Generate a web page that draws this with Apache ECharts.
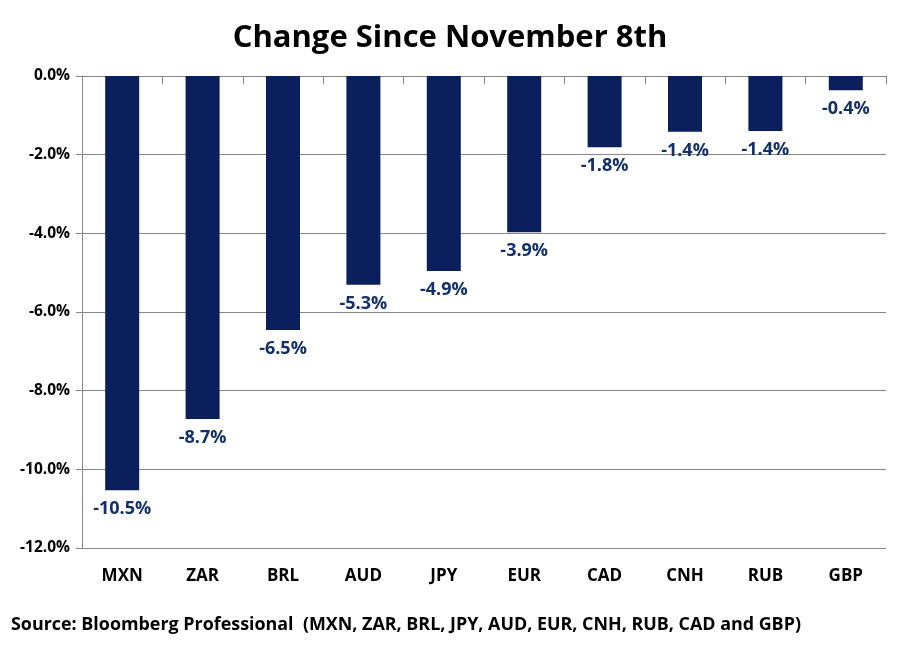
<!DOCTYPE html>
<html><head><meta charset="utf-8">
<script src="https://cdn.jsdelivr.net/npm/echarts@6/dist/echarts.min.js"></script>
<style>html,body{margin:0;padding:0;background:#fff}#c{width:900px;height:652px}</style>
</head><body><div id="c"></div>
<script>
var categories = ['MXN','ZAR','BRL','AUD','JPY','EUR','CAD','CNH','RUB','GBP'];
var values = [-10.53, -8.72, -6.46, -5.31, -4.96, -3.97, -1.81, -1.42, -1.40, -0.36];
var labels = ['-10.5%','-8.7%','-6.5%','-5.3%','-4.9%','-3.9%','-1.8%','-1.4%','-1.4%','-0.4%'];
var title = 'Change Since November 8th';
var source = 'Source: Bloomberg Professional  (MXN, ZAR, BRL, JPY, AUD, EUR, CNH, RUB, CAD and GBP)';
var FONT = 'Open Sans';
var chart = echarts.init(document.getElementById('c'));
chart.setOption({
  animation: false,
  backgroundColor: '#fff',
  title: {text: title, left: 'center', top: 18,
    textStyle: {fontFamily: FONT, fontWeight: 'bold', fontSize: 31, color: '#000'}},
  graphic: [{type: 'text', left: 11, top: 616,
    style: {text: source, fontFamily: FONT, fontWeight: 'bold', fontSize: 17.9, fill: '#000'}}],
  grid: {left: 82, right: 14, top: 76, bottom: 104},
  xAxis: [
    {type: 'category', data: categories, position: 'top',
     axisLine: {show: true, onZero: false, lineStyle: {color: '#868686', width: 1}},
     axisTick: {show: true, inside: true, length: 8, lineStyle: {color: '#868686'}},
     axisLabel: {show: false}},
    {type: 'category', data: categories, position: 'bottom',
     axisLine: {show: false}, axisTick: {show: false},
     axisLabel: {margin: 20, fontFamily: FONT, fontWeight: 'bold', fontSize: 17, color: '#000'}}
  ],
  yAxis: {type: 'value', min: -12, max: 0, interval: 2,
    axisLine: {show: true, lineStyle: {color: '#868686'}},
    axisTick: {show: true, length: 6, lineStyle: {color: '#868686'}},
    splitLine: {lineStyle: {color: '#868686', width: 1}},
    axisLabel: {margin: 12, fontFamily: FONT, fontWeight: 'bold', fontSize: 15.5, color: '#000',
      formatter: function(v){ return v.toFixed(1) + '%'; }}},
  series: [{type: 'bar', xAxisIndex: 1, data: values, barWidth: 34,
    itemStyle: {color: '#0a1f5c'},
    label: {show: true, position: 'bottom', distance: 10, fontFamily: FONT, fontWeight: 'bold',
      fontSize: 18, color: '#12306a',
      formatter: function(p){ return labels[p.dataIndex]; }}}]
});
</script></body></html>
